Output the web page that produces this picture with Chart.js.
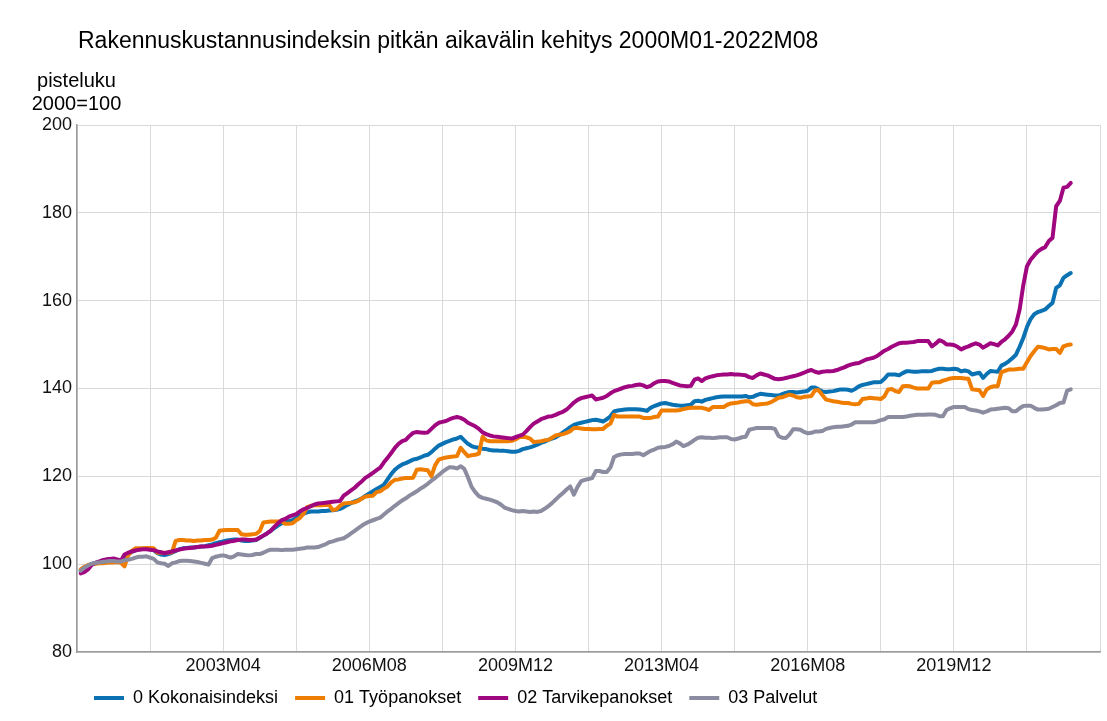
<!DOCTYPE html>
<html>
<head>
<meta charset="utf-8">
<script src="https://cdn.jsdelivr.net/npm/chart.js@4/dist/chart.umd.min.js"></script>
<style>
  html, body { margin: 0; padding: 0; background: #ffffff; }
  #wrap { width: 1107px; height: 721px; position: relative; }
</style>
</head>
<body>
<div id="wrap"><canvas id="c"></canvas></div>
<script>
// ---- data (2000M01 .. 2022M08, monthly) ----
const chartTitle = 'Rakennuskustannusindeksin pitkän aikavälin kehitys 2000M01-2022M08';
const yTitleLines = ['pisteluku', '2000=100'];
const seriesNames = ['0 Kokonaisindeksi', '01 Työpanokset', '02 Tarvikepanokset', '03 Palvelut'];
const seriesColors = ['#0a72b2', '#ef7d00', '#a0067f', '#8c8ca0'];
const tickLabels = ['2003M04', '2006M08', '2009M12', '2013M04', '2016M08', '2019M12'];

const months = [];
for (let y = 2000; y <= 2022; y++) {
  for (let m = 1; m <= 12; m++) {
    if (y === 2022 && m > 8) break;
    months.push(y + 'M' + String(m).padStart(2, '0'));
  }
}

const kokonais = [
  98.5, 99.0, 99.6, 100.0, 100.3, 100.5, 100.6, 100.8, 100.9, 100.9, 100.8, 100.8,
  101.6, 102.3, 102.8, 103.2, 103.4, 103.5, 103.5, 103.4, 103.2, 102.5, 102.2, 102.1,
  102.3, 102.6, 103.0, 103.4, 103.6, 103.7, 103.8, 103.8, 103.9, 104.0, 104.1, 104.3,
  104.5, 104.8, 105.0, 105.2, 105.4, 105.5, 105.6, 105.6, 105.4, 105.3, 105.3, 105.4,
  105.5, 106.0, 106.5, 107.0, 107.6, 108.2, 108.8, 109.3, 109.6, 109.8, 110.0, 110.5,
  111.0, 111.5, 111.8, 112.0, 112.0, 112.0, 112.1, 112.1, 112.2, 112.3, 112.4, 112.6,
  113.0, 113.5, 113.9, 114.3, 114.6, 115.0, 115.6, 116.1, 116.6, 117.1, 117.6, 118.1,
  119.3, 120.5, 121.5, 122.2, 122.7, 123.0, 123.4, 123.8, 124.0, 124.3, 124.7, 124.9,
  125.5, 126.3, 127.0, 127.4, 127.8, 128.1, 128.4, 128.6, 129.0, 128.2, 127.4, 126.9,
  126.6, 126.5, 126.3, 126.2, 126.0, 125.9, 125.9, 125.8, 125.8, 125.7, 125.6, 125.6,
  125.8, 126.2, 126.4, 126.6, 126.9, 127.2, 127.6, 127.9, 128.3, 128.6, 128.9, 129.4,
  130.0, 130.6, 131.2, 131.7, 132.0, 132.2, 132.4, 132.6, 132.8, 132.9, 132.7, 132.5,
  133.0, 133.7, 134.8, 135.0, 135.1, 135.2, 135.3, 135.3, 135.3, 135.2, 135.1, 134.9,
  135.6, 136.0, 136.3, 136.6, 136.7, 136.5, 136.3, 136.2, 136.1, 136.1, 136.2, 136.3,
  137.1, 137.2, 137.0, 137.4, 137.6, 137.8, 138.0, 138.1, 138.2, 138.2, 138.2, 138.2,
  138.2, 138.2, 138.3, 138.0, 138.1, 138.5, 138.8, 138.7, 138.6, 138.5, 138.4, 138.4,
  138.7, 139.0, 139.2, 139.2, 139.1, 139.2, 139.3, 139.5, 140.2, 140.2, 139.8, 139.3,
  139.2, 139.3, 139.4, 139.6, 139.8, 139.8, 139.7, 139.5, 139.9, 140.5, 140.8, 141.0,
  141.2, 141.4, 141.4, 141.5, 142.2, 143.2, 143.2, 143.2, 143.0, 143.5, 143.9, 143.9,
  143.8, 143.8, 143.9, 143.9, 143.9, 144.0, 144.3, 144.5, 144.5, 144.4, 144.4, 144.5,
  144.4, 143.9, 144.1, 143.9, 143.2, 143.4, 143.6, 142.4, 143.3, 144.0, 143.9, 143.8,
  145.2, 145.6, 146.2, 146.9, 147.7, 149.5, 151.5, 154.0, 155.8, 156.9, 157.4, 157.7,
  158.0, 158.8, 159.5, 162.9, 163.5, 165.2, 165.8, 166.3
];

const tyopanokset = [
  98.8, 99.4, 99.8, 100.0, 100.1, 100.2, 100.2, 100.3, 100.4, 100.4, 100.5, 100.3,
  99.5, 102.0, 103.0, 103.6, 103.6, 103.6, 103.7, 103.7, 103.6, 102.6, 102.6, 102.6,
  102.6, 102.7, 105.3, 105.5, 105.5, 105.4, 105.4, 105.3, 105.4, 105.4, 105.5, 105.5,
  105.6, 106.0, 107.6, 107.7, 107.8, 107.8, 107.8, 107.8, 106.8, 106.7, 106.7, 106.8,
  106.9, 107.5, 109.5, 109.6, 109.7, 109.7, 109.7, 109.8, 109.2, 109.2, 109.3, 110.0,
  110.5, 111.5, 113.0, 113.3, 113.4, 113.4, 113.4, 113.5, 113.5, 112.3, 112.5, 113.3,
  113.8, 113.9, 114.0, 114.1, 114.4, 115.0, 115.4, 115.5, 115.6, 116.4, 116.6, 117.2,
  117.7, 118.6, 119.2, 119.3, 119.5, 119.6, 119.6, 119.7, 121.5, 121.6, 121.5, 121.4,
  120.0, 122.5, 123.8, 124.1, 124.3, 124.4, 124.5, 124.6, 126.5, 125.5, 124.6, 124.8,
  124.9, 125.2, 129.0, 128.2, 128.0, 128.0, 128.0, 128.0, 128.0, 128.0, 128.1, 128.4,
  128.9, 129.0, 128.9, 128.6, 127.8, 127.9, 128.0, 128.2, 128.3, 128.8, 129.3, 129.5,
  129.6, 129.9, 130.3, 131.0, 131.0, 130.9, 130.8, 130.8, 130.7, 130.7, 130.8, 130.8,
  131.5, 132.0, 134.0, 133.6, 133.6, 133.6, 133.6, 133.6, 133.6, 133.6, 133.3, 133.3,
  133.3, 133.5, 133.6, 135.0, 135.0, 135.0, 135.0, 135.0, 135.1, 135.3, 135.5, 135.6,
  135.6, 135.6, 135.6, 135.4, 135.1, 135.8, 135.8, 135.8, 135.8, 136.3, 136.6, 136.7,
  136.8, 137.0, 137.1, 137.1, 136.4, 136.3, 136.4, 136.5, 136.6, 136.9, 137.4, 137.9,
  138.0, 138.3, 138.6, 138.4, 138.0, 137.9, 138.1, 138.2, 138.3, 139.6, 139.6, 138.5,
  137.5, 137.3, 137.1, 137.0, 136.8, 136.7, 136.7, 136.5, 136.4, 136.5, 137.6, 137.7,
  137.9, 137.8, 137.7, 137.6, 138.2, 139.8, 139.9, 139.4, 139.2, 140.5, 140.6, 140.5,
  140.2, 140.0, 140.0, 140.0, 140.0, 141.3, 141.4, 141.4, 141.8, 142.0, 142.3, 142.4,
  142.4, 142.4, 142.3, 142.2, 139.8, 139.7, 139.6, 138.3, 139.8, 140.3, 140.5, 140.5,
  143.7, 144.0, 144.3, 144.3, 144.4, 144.5, 144.5, 146.0, 147.4, 148.5, 149.5, 149.4,
  149.2, 148.9, 149.0, 149.0, 148.1, 149.6, 149.9, 150.0
];

const tarvikepanokset = [
  97.9, 98.2, 98.8, 99.8, 100.3, 100.6, 100.9, 101.1, 101.2, 101.3, 101.1, 100.8,
  102.2, 102.6, 102.9, 103.1, 103.3, 103.4, 103.4, 103.3, 103.2, 102.9, 102.7, 102.5,
  102.7, 102.9, 103.1, 103.3, 103.5, 103.6, 103.7, 103.8, 103.9, 104.0, 104.0, 104.1,
  104.2, 104.4, 104.6, 104.8, 105.0, 105.2, 105.3, 105.5, 105.6, 105.6, 105.5, 105.5,
  105.6, 106.0, 106.5, 107.0, 107.6, 108.5, 109.3, 110.0, 110.3, 110.8, 111.1, 111.4,
  112.0, 112.5, 112.8, 113.2, 113.6, 113.8, 113.9, 114.0, 114.1, 114.2, 114.3, 114.4,
  115.6, 116.2, 116.8, 117.4, 118.2, 118.9, 119.7, 120.2, 120.8, 121.4, 122.0, 123.2,
  124.2, 125.3, 126.5, 127.4, 128.0, 128.3, 129.2, 129.9, 130.1, 130.0, 129.9, 130.0,
  130.8, 131.6, 132.2, 132.4, 132.6, 133.0, 133.3, 133.5, 133.3, 132.9, 132.2, 131.8,
  131.4, 130.8, 130.0, 129.6, 129.3, 129.1, 129.0, 128.9, 128.8, 128.7, 128.6, 128.9,
  129.2, 129.5, 130.3, 131.2, 132.0, 132.5, 133.0, 133.3, 133.6, 133.7, 134.0, 134.4,
  134.7, 135.2, 136.0, 136.8, 137.4, 137.8, 138.0, 138.2, 138.4, 137.5, 137.7, 137.9,
  138.3, 138.9, 139.4, 139.7, 140.0, 140.3, 140.5, 140.6, 140.8, 140.9, 140.7, 140.3,
  140.6, 141.2, 141.6, 141.7, 141.7, 141.6, 141.3, 141.0, 140.7, 140.6, 140.5, 140.6,
  142.0, 142.3, 141.7, 142.3, 142.6, 142.8, 143.0, 143.1, 143.2, 143.2, 143.3, 143.2,
  143.2, 143.1, 143.0, 142.6, 142.4, 143.0, 143.4, 143.2, 143.0, 142.6, 142.2, 142.1,
  142.2, 142.4, 142.6, 142.8, 143.0, 143.3, 143.6, 144.0, 144.2, 143.8, 143.6, 143.8,
  143.9, 143.9, 144.0, 144.2, 144.5, 144.8, 145.2, 145.5, 145.7, 145.8, 146.2, 146.6,
  146.8, 147.0, 147.4, 148.0, 148.6, 149.0, 149.5, 149.9, 150.3, 150.4, 150.4, 150.5,
  150.6, 150.8, 150.8, 150.8, 150.8, 149.6, 150.2, 151.0, 150.7, 150.0, 150.0, 149.9,
  149.5, 148.9, 149.3, 149.6, 150.0, 150.3, 150.0, 149.3, 149.8, 150.3, 150.1, 149.8,
  150.6, 151.2, 152.0, 153.0, 154.6, 158.0, 163.5, 167.8, 169.3, 170.3, 171.2, 171.8,
  172.2, 173.6, 174.3, 181.5, 182.7, 185.7, 185.9, 186.8
];

const palvelut = [
  98.5, 99.2, 99.7, 100.1, 100.3, 100.4, 100.5, 100.6, 100.7, 100.7, 100.6, 100.6,
  100.9, 101.0, 101.2, 101.5, 101.7, 101.7, 101.8, 101.5, 101.2, 100.4, 100.2, 100.1,
  99.6, 100.2, 100.4, 100.7, 100.8, 100.8, 100.7, 100.6, 100.5, 100.3, 100.1, 99.9,
  101.4, 101.7, 101.9, 102.0, 101.8, 101.5, 101.8, 102.3, 102.2, 102.1, 102.0, 102.1,
  102.3, 102.3, 102.6, 103.0, 103.3, 103.3, 103.3, 103.2, 103.3, 103.3, 103.3, 103.4,
  103.5, 103.6, 103.8, 103.8, 103.8, 103.9, 104.2, 104.5, 105.0, 105.2, 105.5, 105.7,
  105.9, 106.4, 107.0, 107.6, 108.2, 108.8, 109.3, 109.7, 110.0, 110.3, 110.6, 111.3,
  112.0, 112.6, 113.3, 113.9, 114.5, 115.0, 115.6, 116.1, 116.6, 117.2, 117.7, 118.3,
  119.0, 119.6, 120.3, 121.0, 121.6, 122.1, 122.0, 121.8, 122.3, 121.7, 119.8, 117.6,
  116.4, 115.5, 115.1, 114.9, 114.7, 114.4, 114.1, 113.6, 112.9, 112.6, 112.3, 112.1,
  112.0, 112.1, 112.0, 111.9, 112.0, 111.9, 112.1, 112.6, 113.2, 113.9, 114.7, 115.5,
  116.2, 117.0, 117.7, 115.8, 117.6, 118.9, 119.2, 119.4, 119.6, 121.2, 121.2, 121.0,
  121.0, 122.0, 124.4, 124.8, 125.0, 125.1, 125.1, 125.1, 125.2, 125.2, 124.8, 125.3,
  125.8, 126.1, 126.5, 126.6, 126.7, 126.9, 127.3, 127.9, 127.5, 126.9, 127.2, 127.7,
  128.3, 128.8, 128.9, 128.8, 128.8, 128.7, 128.8, 128.9, 128.9, 128.9, 128.5, 128.4,
  128.6, 128.9, 129.0, 130.6, 130.8, 131.0, 131.0, 131.0, 131.0, 131.0, 130.8, 129.2,
  128.8, 128.7, 129.5, 130.7, 130.7, 130.6, 130.1, 129.8, 129.9, 130.2, 130.2, 130.3,
  130.8, 131.0, 131.2, 131.3, 131.3, 131.4, 131.5, 131.8, 132.3, 132.3, 132.3, 132.3,
  132.3, 132.3, 132.5, 132.8, 133.0, 133.5, 133.5, 133.5, 133.5, 133.5, 133.6, 133.8,
  133.9, 134.0, 134.0, 134.0, 134.1, 134.1, 134.0, 133.7, 133.7, 135.1, 135.5, 135.8,
  135.8, 135.8, 135.8, 135.3, 135.1, 135.0, 134.8, 134.5, 134.8, 135.2, 135.3, 135.4,
  135.5, 135.6, 135.5, 134.8, 134.8, 135.5, 136.0, 136.1, 136.1, 135.6, 135.2, 135.2,
  135.3, 135.4, 135.8, 136.2, 136.7, 136.8, 139.5, 139.8
];

const seriesValues = [kokonais, tyopanokset, tarvikepanokset, palvelut];

// ---- chart ----
const FONT = '"Liberation Sans", Arial, sans-serif';
const xMin = -1, xMax = 279, xGridStep = 20;

const datasets = seriesValues.map((vals, k) => ({
  label: seriesNames[k],
  data: vals.map((v, i) => ({ x: i, y: v })),
  borderColor: seriesColors[k],
  backgroundColor: seriesColors[k],
  borderWidth: 4,
  pointRadius: 0,
  pointHoverRadius: 0,
  tension: 0,
  borderJoinStyle: 'round',
  borderCapStyle: 'round',
  fill: false,
  order: -k   // later series drawn on top
}));

const textPlugin = {
  id: 'texts',
  afterLayout(chart) {
    chart.legend.left = chart.chartArea.left;
    chart.legend.top = 672;
  },
  afterDraw(chart) {
    const ctx = chart.ctx;
    ctx.save();
    ctx.fillStyle = '#000';
    ctx.textBaseline = 'alphabetic';
    ctx.textAlign = 'left';
    ctx.font = '23px ' + FONT;
    ctx.fillText(chartTitle, 78, 48);
    ctx.textAlign = 'center';
    ctx.font = '20px ' + FONT;
    ctx.fillText(yTitleLines[0], 76.5, 87);
    ctx.fillText(yTitleLines[1], 76.5, 110);
    ctx.restore();
  }
};

new Chart(document.getElementById('c'), {
  type: 'line',
  data: { datasets },
  plugins: [textPlugin],
  options: {
    responsive: true,
    maintainAspectRatio: false,
    animation: false,
    events: [],
    layout: { padding: { top: 125, right: 7, bottom: -4, left: 0 } },
    scales: {
      x: {
        type: 'linear',
        min: xMin,
        max: xMax,
        afterBuildTicks(scale) {
          const t = [];
          for (let v = xMin; v <= xMax; v += xGridStep) t.push({ value: v });
          scale.ticks = t;
        },
        afterFit(scale) { scale.height = 28; },
        ticks: {
          autoSkip: false,
          maxRotation: 0,
          padding: 3,
          color: '#111',
          font: { family: FONT, size: 18 },
          callback(value) {
            const lbl = months[value];
            return (lbl && tickLabels.includes(lbl)) ? lbl : '';
          }
        },
        grid: { color: '#d9d9d9', lineWidth: 1, drawTicks: false },
        border: { color: '#9a9a9a', width: 1.5 }
      },
      y: {
        min: 80,
        max: 200,
        afterFit(scale) { scale.width = 77; },
        ticks: {
          stepSize: 20,
          padding: 5,
          color: '#111',
          font: { family: FONT, size: 18 }
        },
        grid: { color: '#d9d9d9', lineWidth: 1, drawTicks: false },
        border: { color: '#9a9a9a', width: 1.5 }
      }
    },
    plugins: {
      title: { display: false },
      tooltip: { enabled: false },
      legend: {
        display: true,
        position: 'bottom',
        align: 'start',
        labels: {
          color: '#000',
          font: { family: FONT, size: 18 },
          boxWidth: 30,
          boxHeight: 4,
          padding: 17,
          generateLabels(chart) {
            return chart.data.datasets.map((d, i) => ({
              text: d.label,
              fillStyle: d.borderColor,
              strokeStyle: d.borderColor,
              lineWidth: 0,
              hidden: false,
              datasetIndex: i
            }));
          }
        }
      }
    }
  }
});
</script>
</body>
</html>
